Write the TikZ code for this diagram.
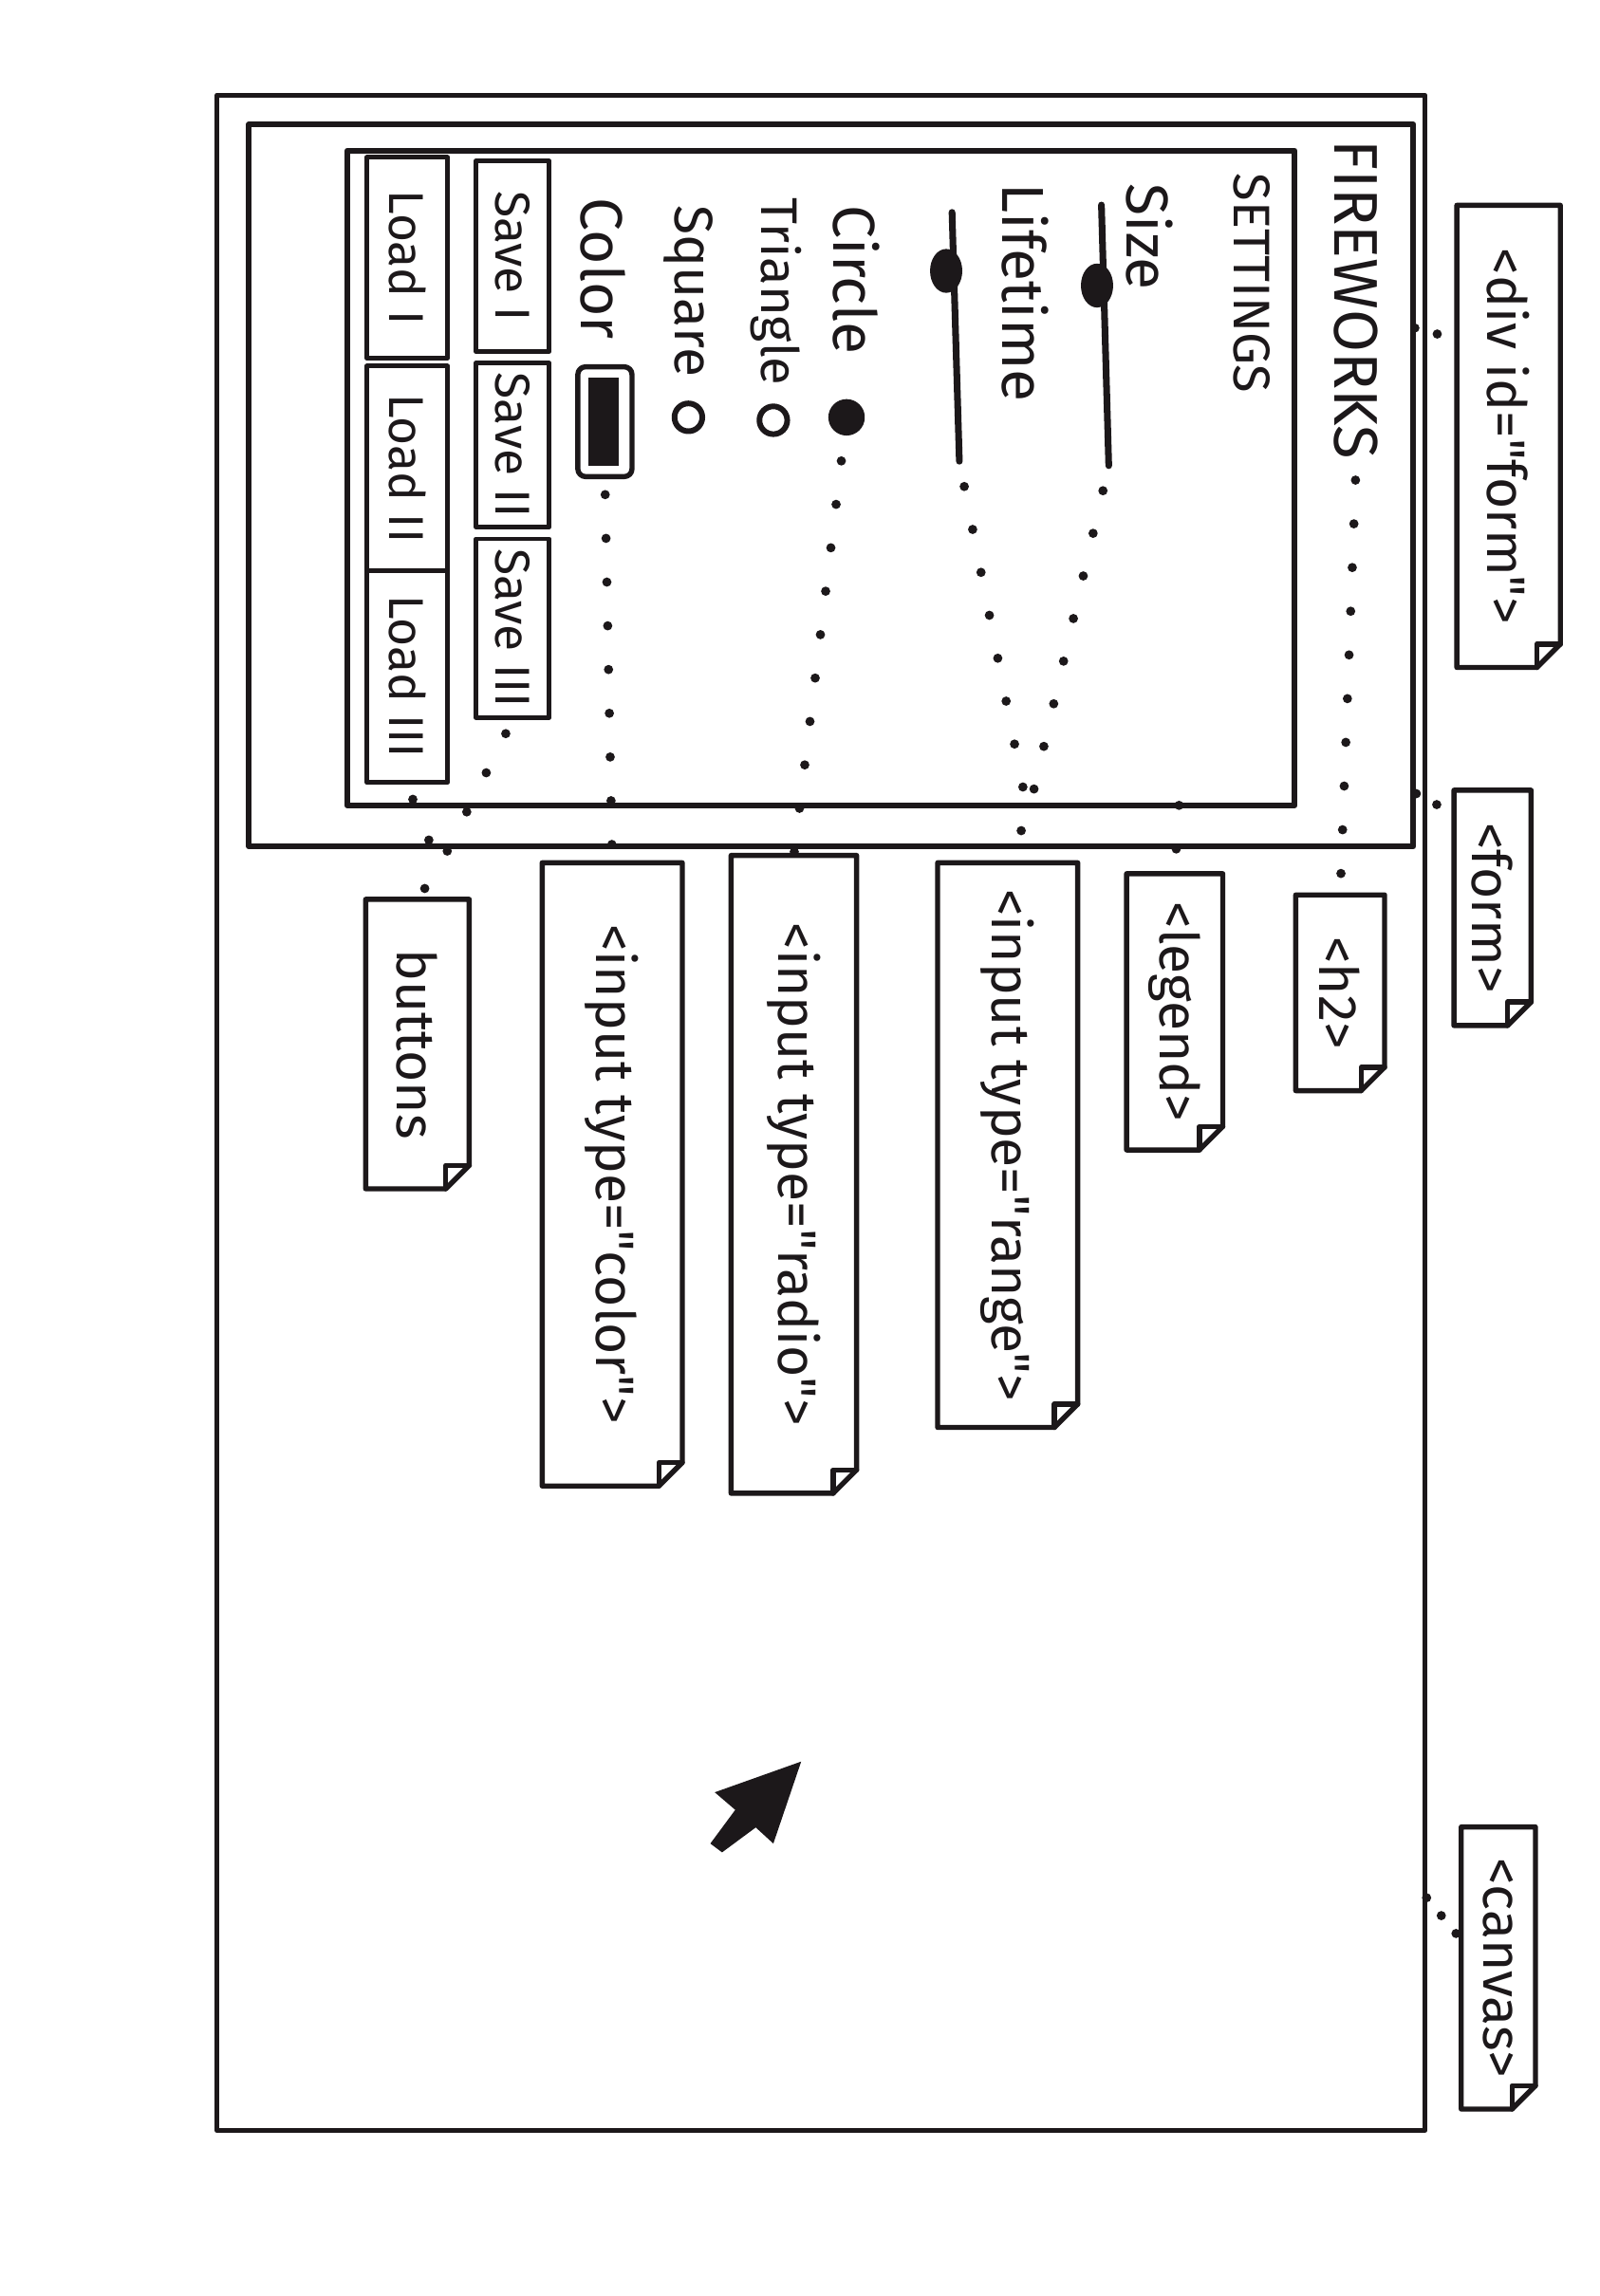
\documentclass[tikz,border=0pt]{standalone}
\usepackage{fontspec}
\setmainfont{Fira Sans}[Ligatures=TeXOff]
\usetikzlibrary{calc}
\definecolor{ink}{RGB}{28,24,26}

\begin{document}
\begin{tikzpicture}[x=0.02cm, y=0.02cm, line join=round, line cap=round,
    frame/.style={draw=ink, line width=2pt},
    hand/.style={text=ink, font=\fontsize{23}{26}\selectfont, inner sep=0pt, anchor=west},
    note/.style={text=ink, font=\fontsize{21}{24}\selectfont, inner sep=0pt},
    btn/.style={draw=ink, line width=1.8pt, text=ink, font=\fontsize{19}{22}\selectfont, minimum height=1cm, inner sep=0pt},
    radio/.style={circle, draw=ink, line width=2.2pt, minimum size=0.38cm, inner sep=0pt},
    dots/.style={draw=ink, line width=3.6pt, line cap=round, dash pattern=on 0pt off 17pt},
    tiedots/.style={dots, dash pattern=on 0pt off 9pt}]
  \useasboundingbox[fill=white] (0,0) rectangle (1092,-1568);
  % sheet is drawn lying on its side
  \begin{scope}[rotate=-90, transform shape]
    \newcommand{\dogear}[1]{%
      \draw[frame] (#1.south west) -- (#1.north west) -- ($(#1.north east)+(-16,0)$) -- ($(#1.north east)+(0,-16)$) -- (#1.south east) -- cycle;
      \draw[frame] ($(#1.north east)+(-16,0)$) -- ($(#1.north east)+(-16,-16)$) -- ($(#1.north east)+(0,-16)$);
    }
    % canvas, div and form
    \draw[frame, line width=1.7pt] (65,148) rectangle (1455,973);
    \draw[frame, line width=2.3pt] (85,170) rectangle (578,965);
    \draw[frame, line width=2.3pt] (103,237) rectangle (550,884);

    % Heading and legend
    \node[hand, font=\fontsize{24}{27}\selectfont] (title) at (95,926) {FIREWORKS};
    \node[hand, font=\fontsize{20}{23}\selectfont] (settings) at (118,855) {SETTINGS};

    % Sliders
    \node[hand] (size) at (125,785) {Size};
    \draw[ink, line width=2.6pt] (140,752) coordinate (sizetop) -- (318,757) coordinate (sizeend);
    \fill[ink] (195,749) ellipse [x radius=15, y radius=11];
    \node[hand] (lifetime) at (125,700) {Lifetime};
    \draw[ink, line width=2.6pt] (145,650) coordinate (lifetop) -- (315,655) coordinate (lifeend);
    \fill[ink] (185,646) ellipse [x radius=15, y radius=11];

    % Radio buttons
    \node[hand] (circle) at (140,585) {Circle};
    \node[radio, fill=ink, minimum size=0.42cm] (circledot) at (285,578) {};
    \node[hand, font=\fontsize{20}{23}\selectfont] (triangle) at (135,530) {Triangle};
    \node[radio] (triangledot) at (287,528) {};
    \node[hand, font=\fontsize{21}{24}\selectfont] (square) at (140,470) {Square};
    \node[radio] (squaredot) at (285,470) {};

    % Color picker
    \node[hand] (color) at (135,412) {Color};
    \node[fill=ink, minimum width=1.2cm, minimum height=0.42cm, inner sep=0pt] (swatchfill) at (288,412) {};
    \node[draw=ink, line width=2pt, rounded corners=3pt, minimum width=1.5cm, minimum height=0.74cm, inner sep=0pt] (swatch) at (288,413) {};

    % Save and load buttons
    \node[btn, minimum width=2.6cm] (savea) at (175,350) {Save I};
    \node[btn, minimum width=2.24cm] (saveb) at (304,350) {Save II};
    \node[btn, minimum width=2.44cm] (savec) at (429,350) {Save III};
    \node[btn, minimum width=2.74cm, minimum height=1.1cm] (loada) at (176,278) {Load I};
    \node[btn, minimum width=2.8cm, minimum height=1.1cm] (loadb) at (320,278) {Load II};
    \node[btn, minimum width=2.9cm, minimum height=1.1cm] (loadc) at (462,278) {Load III};

    % Notes
    \node[note, minimum width=6.3cm, minimum height=1.4cm] (divnote) at (298,1030) {<div id="form">};
    \node[note, minimum width=3.2cm, minimum height=1.04cm] (formnote) at (620,1019) {<form>};
    \node[note, minimum width=2.66cm, minimum height=1.2cm] (h2note) at (678,915) {<h2>};
    \node[note, minimum width=3.76cm, minimum height=1.3cm] (legendnote) at (691,802) {<legend>};
    \node[note, minimum width=7.7cm, minimum height=1.9cm] (rangenote) at (782,688) {<input type="range">};
    \node[note, minimum width=8.7cm, minimum height=1.7cm] (radionote) at (802,542) {<input type="radio">};
    \node[note, minimum width=8.5cm, minimum height=1.9cm] (colornote) at (802,418) {<input type="color">};
    \node[note, minimum width=3.94cm, minimum height=1.4cm] (buttonsnote) at (713,285) {buttons};
    \node[note, minimum width=3.84cm, minimum height=1.0cm] (canvasnote) at (1344,1023) {<canvas>};
    \foreach \n in {divnote, formnote, h2note, legendnote, rangenote, radionote, colornote, buttonsnote, canvasnote}
      \dogear{\n};

    % Dotted connectors
    \coordinate (legendhook) at (550,805);
    \coordinate (rangejoin) at (556,702);
    \coordinate (btnjoin) at (592,300);
    \coordinate (divhook) at (224,966);
    \coordinate (formhook) at (542,967);
    \coordinate (canvashook) at (1296,974);
    \draw[dots, shorten <=8pt] (title.east) -- (h2note.west);
    \draw[dots] (legendhook) -- (legendnote.west);
    \draw[dots, shorten <=10pt] (sizeend) -- (rangejoin) -- (rangenote.west);
    \draw[dots, shorten <=10pt] (lifeend) -- (rangejoin);
    \draw[dots, shorten <=10pt] (circledot) -- (radionote.west);
    \draw[dots, shorten <=6pt] (swatch.east) -- (colornote.west);
    \draw[dots, shorten <=6pt] (savec.east) -- (btnjoin) -- (buttonsnote.west);
    \draw[dots, shorten <=6pt] (loadc.east) -- (btnjoin);
    \draw[tiedots] (divhook) -- ($(divnote.south west)!0.29!(divnote.south east)$);
    \draw[tiedots] (formhook) -- ($(formnote.south west)!0.1!(formnote.south east)$);
    \draw[tiedots] (canvashook) -- ($(canvasnote.south west)!0.4!(canvasnote.south east)$);

    % Mouse pointer
    \fill[ink] (1203,547) -- (1224,488) -- (1236,502) -- (1259,485) -- (1265,493) -- (1248,516) -- (1259,528) -- cycle;
  \end{scope}
\end{tikzpicture}
\end{document}
